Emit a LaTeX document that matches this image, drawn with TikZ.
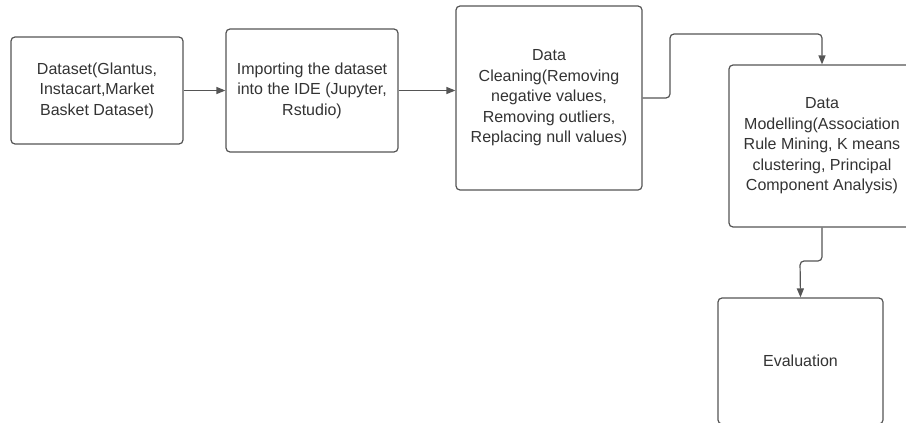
\documentclass[tikz,border=0pt]{standalone}
\usepackage{fontspec}
\setmainfont{Liberation Sans}
\usetikzlibrary{arrows.meta}
\definecolor{linec}{HTML}{555555}
\definecolor{textc}{HTML}{333333}
\begin{document}
\begin{tikzpicture}[x=1pt,y=-1pt,
  procbox/.style={draw=linec,line width=1.2pt,rounded corners=4pt,fill=white,
    inner sep=0pt,align=center,text=textc,
    font=\fontsize{16}{20.5}\selectfont},
  conn/.style={draw=linec,line width=1.2pt,rounded corners=4pt,
    -{Triangle[length=9pt,width=7pt]}}]
\useasboundingbox (0,0) rectangle (906,423);
\clip (0,0) rectangle (906,423);
\fill[white] (0,0) rectangle (906,423);
\node[procbox,minimum width=172pt,minimum height=107pt] (b1) at (97,90.5)
  {Dataset(Glantus,\\Instacart,Market\\Basket Dataset)};
\node[procbox,minimum width=172pt,minimum height=123pt] (b2) at (312,90.5)
  {Importing the dataset\\into the IDE (Jupyter,\\Rstudio)};
\node[procbox,minimum width=186pt,minimum height=184pt] (b3) at (549,98)
  {Data\\Cleaning(Removing\\negative values,\\Removing outliers,\\Replacing null values)};
\node[procbox,minimum width=186pt,minimum height=162pt] (b4) at (822,146)
  {Data\\Modelling(Association\\Rule Mining, K means\\clustering, Principal\\Component Analysis)};
\node[procbox,minimum width=165pt,minimum height=126pt] (b5) at (800.5,361)
  {Evaluation};
\coordinate (j1) at (670,34);
\coordinate (j2) at (800,261);
\draw[conn] (b1.east) -- (b2.west);
\draw[conn] (b2.east) -- (b2.east -| b3.west);
\draw[conn] (b3.east) -| (j1) -| (b4.north);
\draw[conn] (b4.south) |- (j2) -- (b5.north);
\end{tikzpicture}
\end{document}
